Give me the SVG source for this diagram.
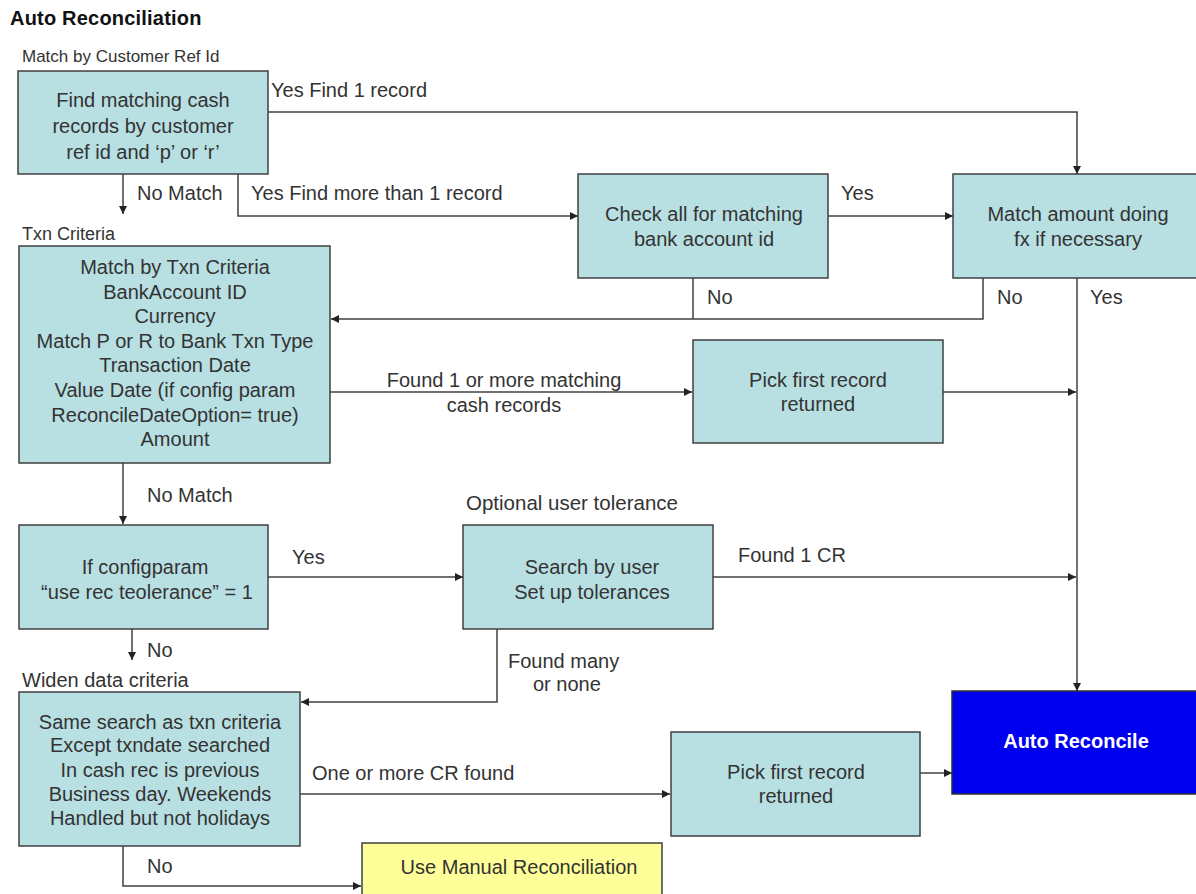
<svg xmlns="http://www.w3.org/2000/svg" width="1196" height="894" viewBox="0 0 1196 894">
  <style>
    text { font-family: "Liberation Sans", Arial, sans-serif; fill: #333; }
    .title { font-size: 20px; font-weight: bold; fill: #111; letter-spacing: 0.2px; }
    .sec { font-size: 18px; }
    .lbl { font-size: 20px; }
    .bt { font-size: 20px; text-anchor: middle; }
    .box { fill: #B8DFE2; stroke: #404040; stroke-width: 1.5; }
    .auto { fill: #0000F0; stroke: #303030; stroke-width: 1.5; }
    .auto-t { font-size: 20px; font-weight: bold; text-anchor: middle; fill: #fff; }
    .manual { fill: #FFFF99; stroke: #404040; stroke-width: 1.5; }
    .wire { fill: none; stroke: #404040; stroke-width: 1.5; }
    .arr { marker-end: url(#head); }
  </style>
  <defs>
    <marker id="head" viewBox="0 0 10 10" refX="10" refY="5" markerWidth="9" markerHeight="8" markerUnits="userSpaceOnUse" orient="auto">
      <path d="M0,0 L10,5 L0,10 z" fill="#222"/>
    </marker>
  </defs>

  <rect width="1196" height="894" fill="#fff"/>

  <!-- headings -->
  <text class="title" x="10" y="25">Auto Reconciliation</text>
  <text class="sec" x="22" y="62" style="font-size:17px">Match by Customer Ref Id</text>
  <text class="sec" x="22" y="240">Txn Criteria</text>
  <text class="lbl" x="466" y="510" style="font-size:20.5px">Optional user tolerance</text>
  <text class="sec" x="22" y="687" style="font-size:20px">Widen data criteria</text>

  <!-- connectors -->
  <g id="connectors">
    <path class="wire arr" d="M268,112 H1077 V174"/>
    <path class="wire arr" d="M123,174 V214"/>
    <path class="wire arr" d="M238,174 V216 H578"/>
    <path class="wire arr" d="M828,216 H953"/>
    <path class="wire" d="M693,278 V319"/>
    <path class="wire arr" d="M983,278 V319 H331"/>
    <path class="wire arr" d="M1077,278 V691"/>
    <path class="wire arr" d="M330,392 H692"/>
    <path class="wire arr" d="M943,392 H1076"/>
    <path class="wire arr" d="M123,463 V524"/>
    <path class="wire arr" d="M268,577 H463"/>
    <path class="wire arr" d="M713,577 H1076"/>
    <path class="wire arr" d="M132,629 V660"/>
    <path class="wire arr" d="M497,629 V702 H301"/>
    <path class="wire arr" d="M300,794 H670"/>
    <path class="wire arr" d="M920,773 H952"/>
    <path class="wire arr" d="M123,846 V886 H361"/>

    <!-- connector labels -->
    <text class="lbl" x="271" y="97">Yes Find 1 record</text>
    <text class="lbl" x="137" y="200">No Match</text>
    <text class="lbl" x="251" y="200">Yes Find more than 1 record</text>
    <text class="lbl" x="841" y="200">Yes</text>
    <text class="lbl" x="707" y="304">No</text>
    <text class="lbl" x="997" y="304">No</text>
    <text class="lbl" x="1090" y="304">Yes</text>
    <text class="bt" x="504" y="387">Found 1 or more matching</text>
    <text class="bt" x="504" y="412">cash records</text>
    <text class="lbl" x="147" y="502">No Match</text>
    <text class="lbl" x="292" y="564">Yes</text>
    <text class="lbl" x="738" y="562">Found 1 CR</text>
    <text class="lbl" x="147" y="657">No</text>
    <text class="lbl" x="508" y="668">Found many</text>
    <text class="lbl" x="533" y="691">or none</text>
    <text class="lbl" x="312" y="780">One or more CR found</text>
    <text class="lbl" x="147" y="873">No</text>
  </g>

  <!-- nodes -->
  <g id="find-by-ref">
    <rect class="box" x="18" y="71" width="250" height="103"/>
    <text class="bt" x="143" y="107">Find matching cash</text>
    <text class="bt" x="143" y="133">records by customer</text>
    <text class="bt" x="143" y="159">ref id and ‘p’ or ‘r’</text>
  </g>

  <g id="check-bank-account">
    <rect class="box" x="578" y="174" width="250" height="104"/>
    <text class="bt" x="704" y="221">Check all for matching</text>
    <text class="bt" x="704" y="246">bank account id</text>
  </g>

  <g id="match-amount">
    <rect class="box" x="953" y="174" width="250" height="104"/>
    <text class="bt" x="1078" y="221">Match amount doing</text>
    <text class="bt" x="1078" y="246">fx if necessary</text>
  </g>

  <g id="txn-criteria">
    <rect class="box" x="19" y="246" width="311" height="217"/>
    <text class="bt" x="175" y="274">Match by Txn Criteria</text>
    <text class="bt" x="175" y="299">BankAccount ID</text>
    <text class="bt" x="175" y="323">Currency</text>
    <text class="bt" x="175" y="348">Match P or R to Bank Txn Type</text>
    <text class="bt" x="175" y="372">Transaction Date</text>
    <text class="bt" x="175" y="397">Value Date (if config param</text>
    <text class="bt" x="175" y="422">ReconcileDateOption= true)</text>
    <text class="bt" x="175" y="446">Amount</text>
  </g>

  <g id="pick-first-1">
    <rect class="box" x="693" y="340" width="250" height="103"/>
    <text class="bt" x="818" y="387">Pick first record</text>
    <text class="bt" x="818" y="411">returned</text>
  </g>

  <g id="use-tolerance">
    <rect class="box" x="19" y="525" width="249" height="104"/>
    <text class="bt" x="145" y="574">If configparam</text>
    <text class="bt" x="147" y="599">“use rec teolerance” = 1</text>
  </g>

  <g id="search-tolerance">
    <rect class="box" x="463" y="525" width="250" height="104"/>
    <text class="bt" x="592" y="574">Search by user</text>
    <text class="bt" x="592" y="599">Set up tolerances</text>
  </g>

  <g id="widen-criteria">
    <rect class="box" x="19" y="692" width="281" height="154"/>
    <text class="bt" x="160" y="729">Same search as txn criteria</text>
    <text class="bt" x="160" y="752">Except txndate searched</text>
    <text class="bt" x="160" y="777">In cash rec is previous</text>
    <text class="bt" x="160" y="801">Business day. Weekends</text>
    <text class="bt" x="160" y="825">Handled but not holidays</text>
  </g>

  <g id="pick-first-2">
    <rect class="box" x="671" y="732" width="249" height="104"/>
    <text class="bt" x="796" y="779">Pick first record</text>
    <text class="bt" x="796" y="803">returned</text>
  </g>

  <g id="auto-reconcile">
    <rect class="auto" x="952" y="691" width="252" height="103"/>
    <text class="auto-t" x="1076" y="748">Auto Reconcile</text>
  </g>

  <g id="manual-reconcile">
    <rect class="manual" x="362" y="843" width="300" height="60"/>
    <text class="bt" x="519" y="874">Use Manual Reconciliation</text>
  </g>
</svg>
